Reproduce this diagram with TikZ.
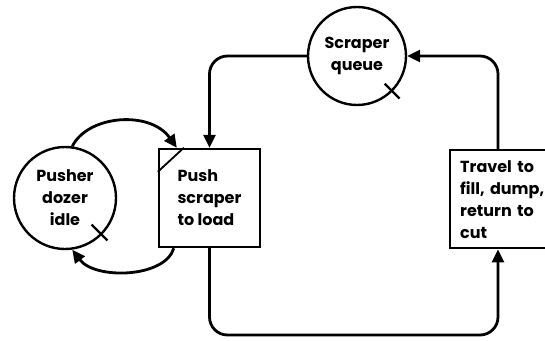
\documentclass[tikz,border=0pt]{standalone}
\usepackage{fontspec}
\setmainfont{Poppins}
\usetikzlibrary{arrows.meta,calc}
\begin{document}
\begin{tikzpicture}[x=1pt,y=1pt,
  every node/.style={font=\fontsize{16}{22}\selectfont\bfseries},
  state/.style={circle,draw,line width=2.4pt,minimum size=102pt,inner sep=0pt,align=center},
  activity/.style={rectangle,draw,line width=2.4pt,minimum height=98pt,inner ysep=0pt},
  flow/.style={line width=2.8pt,-{Triangle[length=13pt,width=12pt]}},
  tickmark/.style={line width=2.2pt}]
\useasboundingbox (0,0) rectangle (545,-340);

% states (circles) and activities (boxes)
\node[state] (pd) at (65,-198) {Pusher\\dozer\\idle};
\node[state, minimum size=98pt] (sq) at (357,-56) {Scraper\\queue};
\node[activity, minimum width=101pt, inner xsep=0pt, align=left] (push) at (209.5,-198) {Push\\scraper\\to load};
\node[activity, anchor=north west, text width=100pt, inner xsep=10pt, align=left] (trav) at (449,-149) {Travel to\\fill, dump,\\return to\\cut};

% corner mark of the push box
\draw[line width=1.8pt] ($(push.north west)+(0,-24)$) -- ($(push.north west)+(26,0)$);

% ticks on the queues
\draw[tickmark] ($(pd.center)!0.72!(pd.-45)$) -- ($(pd.center)!1.15!(pd.-45)$);
\draw[tickmark] ($(sq.center)!0.78!(sq.-45)$) -- ($(sq.center)!1.2!(sq.-45)$);

% connector helper points
\coordinate (tb) at ($(trav.south west)+(49,0)$);
\coordinate (tt) at ($(trav.north west)+(49,0)$);
\coordinate (bl) at (209.5,-335);
\coordinate (br) at (tb |- bl);
\coordinate (tr) at (tt |- sq.east);
\coordinate (tl) at (push.north |- sq.west);

% scraper cycle
\draw[flow, rounded corners=18pt] (push.south) -- (bl) -- (br) -- (tb);
\draw[flow, rounded corners=18pt] (tt) -- (tr) -- (sq.east);
\draw[flow, rounded corners=18pt] (sq.west) -- (tl) -- (push.north);

% pusher cycle
\draw[flow] (pd.82) .. controls (88,-115) and (150,-110) .. ($(push.north west)+(19,0)$);
\draw[flow] ($(push.south west)+(16,0)$) .. controls (165,-278) and (95,-280) .. (pd.-82);
\end{tikzpicture}
\end{document}
